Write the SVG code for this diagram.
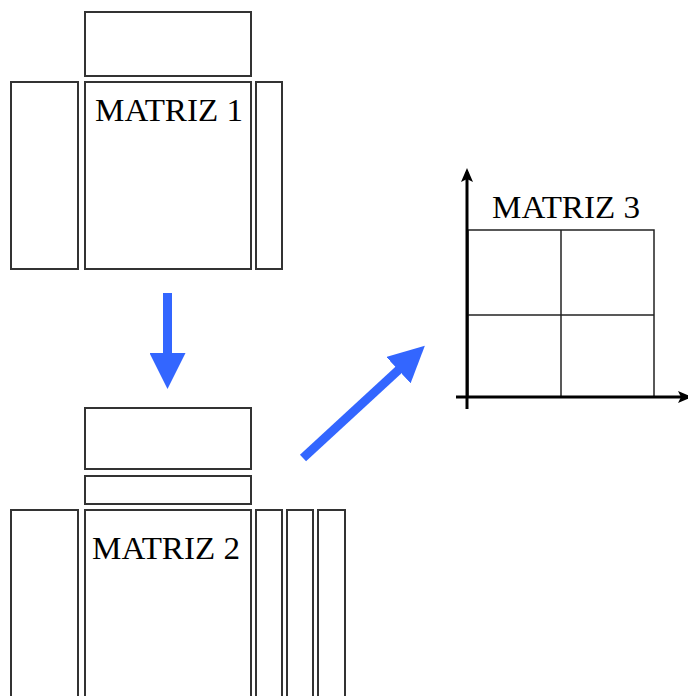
<svg xmlns="http://www.w3.org/2000/svg" width="688" height="696" viewBox="0 0 688 696">
<style>
.b{fill:#fff;stroke:#333;stroke-width:2}
.g{fill:none;stroke:#222;stroke-width:1.5}
.ax{stroke:#000;stroke-width:3;fill:none}
.t{font-family:"Liberation Serif","Times New Roman",serif;font-size:32px;fill:#000}
.arr{stroke:#3366ff;stroke-width:9;fill:none}
</style>
<defs>
<marker id="ah" markerWidth="4" markerHeight="4" refX="1" refY="2" orient="auto" markerUnits="strokeWidth" viewBox="0 0 4 4"><path d="M0,0 L4,2 L0,4 Z" fill="#3366ff"/></marker>
<marker id="ax" markerWidth="14" markerHeight="12" refX="10" refY="6" orient="auto" markerUnits="userSpaceOnUse" viewBox="0 0 14 12"><path d="M0,0 L14,6 L0,12 L3,6 Z" fill="#000"/></marker>
</defs>
<rect width="688" height="696" fill="#fff"/>
<g id="matriz1">
<rect class="b" x="85" y="12" width="166" height="64"/>
<rect class="b" x="11" y="82" width="67" height="187"/>
<rect class="b" x="85" y="82" width="166" height="187"/>
<rect class="b" x="256" y="82" width="26" height="187"/>
<text class="t" x="95" y="121" textLength="148" lengthAdjust="spacingAndGlyphs">MATRIZ 1</text>
</g>
<g id="matriz2">
<rect class="b" x="85" y="408" width="166" height="61"/>
<rect class="b" x="85" y="476" width="166" height="28"/>
<rect class="b" x="11" y="510" width="67" height="200"/>
<rect class="b" x="85" y="510" width="166" height="200"/>
<rect class="b" x="256" y="510" width="26" height="200"/>
<rect class="b" x="287" y="510" width="26" height="200"/>
<rect class="b" x="318" y="510" width="27" height="200"/>
<text class="t" x="92" y="559" textLength="148" lengthAdjust="spacingAndGlyphs">MATRIZ 2</text>
</g>
<g id="matriz3">
<rect class="g" x="468" y="230" width="186" height="167"/>
<line class="g" x1="561" y1="230" x2="561" y2="397"/>
<line class="g" x1="468" y1="315" x2="654" y2="315"/>
<line class="ax" x1="467" y1="409" x2="467" y2="172" marker-end="url(#ax)"/>
<line class="ax" x1="456" y1="397" x2="688" y2="397" marker-end="url(#ax)"/>
<text class="t" x="492" y="218" textLength="148" lengthAdjust="spacingAndGlyphs">MATRIZ 3</text>
</g>
<g id="connectors">
<line class="arr" x1="167.5" y1="293" x2="167.5" y2="362" marker-end="url(#ah)"/>
<line class="arr" x1="303" y1="458" x2="405" y2="364" marker-end="url(#ah)"/>
</g>
</svg>
